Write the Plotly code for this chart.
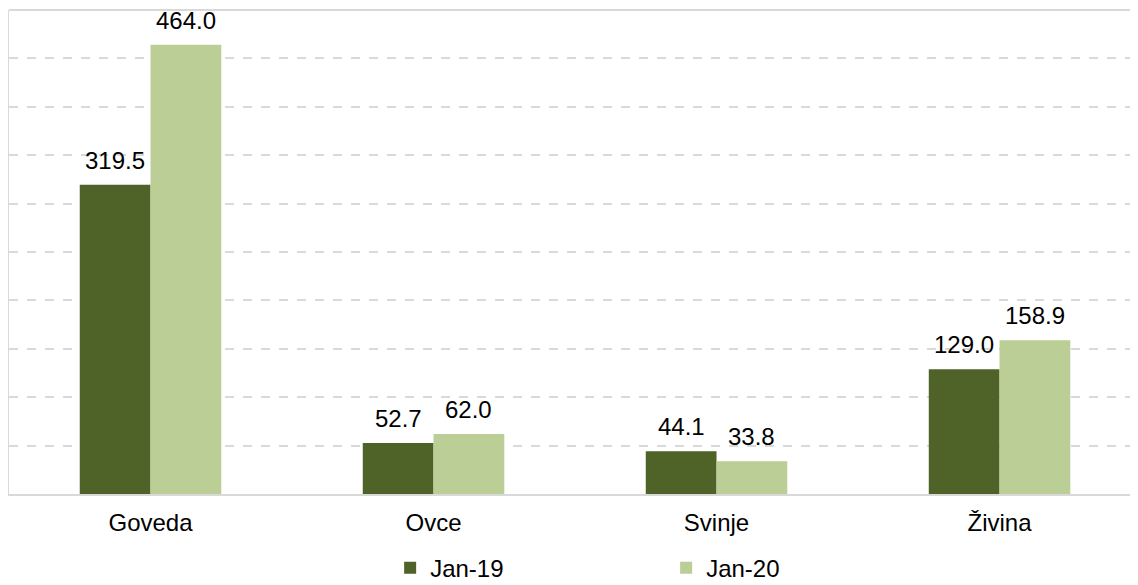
import plotly.graph_objects as go

categories = ["Goveda", "Ovce", "Svinje", "Živina"]
jan19 = [319.5, 52.7, 44.1, 129.0]
jan20 = [464.0, 62.0, 33.8, 158.9]
series_names = ["Jan-19", "Jan-20"]
colors = ["#4F6228", "#BACE96"]

font_family = "Liberation Sans, Arial, sans-serif"
positions = list(range(len(categories)))

fig = go.Figure()
annotations = []
for name, vals, col, off in zip(series_names, [jan19, jan20], colors, [-0.125, 0.125]):
    fig.add_trace(go.Bar(
        x=positions, y=vals, name=name,
        marker=dict(color=col, line=dict(width=0)),
    ))
    for p, v in zip(positions, vals):
        annotations.append(dict(
            x=p + off, y=v, xref="x", yref="y", text=f"{v:.1f}", showarrow=False,
            yshift=9, yanchor="bottom", xanchor="center",
            font=dict(family=font_family, size=24, color="#000000"),
        ))

fig.update_layout(
    template="none",
    width=1122, height=577,
    margin=dict(l=1, r=0, t=2, b=91, autoexpand=False),
    paper_bgcolor="white", plot_bgcolor="white",
    barmode="group", bargap=0.5, bargroupgap=0,
    font=dict(family=font_family, size=24, color="#000000"),
    showlegend=True,
    legend=dict(orientation="h", x=0.34, xanchor="left", y=-0.153, yanchor="middle",
                font=dict(family=font_family, size=24, color="#000000"),
                entrywidth=231, itemwidth=30, bgcolor="rgba(0,0,0,0)"),
    xaxis=dict(range=[-0.5, 3.461], tickvals=positions, ticktext=categories,
               showline=True, linecolor="#D9D9D9", linewidth=2,
               ticks="outside", ticklen=6, tickcolor="rgba(0,0,0,0)",
               tickfont=dict(family=font_family, size=24, color="#000000"),
               showgrid=False, automargin=False, zeroline=False),
    yaxis=dict(range=[0, 500], dtick=50, showticklabels=False, showgrid=True,
               gridcolor="#D9D9D9", griddash="dash", gridwidth=1.5, ticks="",
               showline=True, linecolor="#D9D9D9", linewidth=2, zeroline=False,
               automargin=False),
    shapes=[dict(type="line", xref="paper", yref="paper", x0=0, x1=1, y0=1, y1=1,
                 line=dict(color="#D9D9D9", width=2))],
    annotations=annotations,
)

fig.write_html("out.html")
